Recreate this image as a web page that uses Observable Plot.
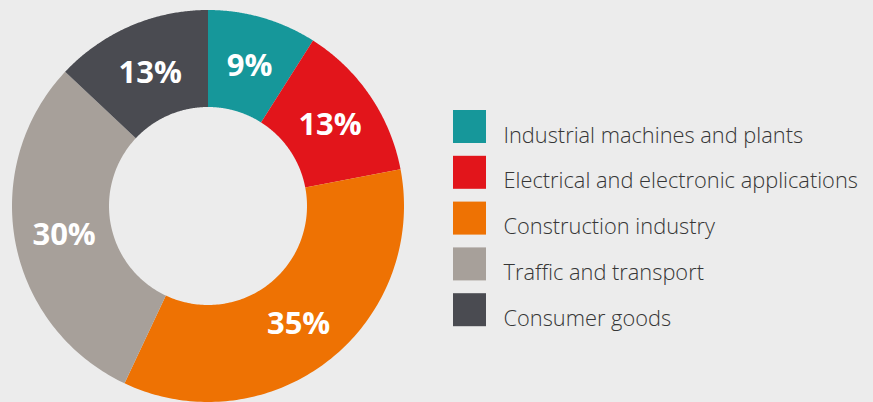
<!DOCTYPE html>
<html>
<head>
<meta charset="utf-8">
<script src="https://cdn.jsdelivr.net/npm/d3@7"></script>
<script src="https://cdn.jsdelivr.net/npm/@observablehq/plot@0.6"></script>
<style>
  html, body { margin: 0; padding: 0; background: #ececec; }
  #chart svg { display: block; }
</style>
</head>
<body>
<div id="chart"></div>
<script>
// ---- data ----
const categories = [
  "Industrial machines and plants",
  "Electrical and electronic applications",
  "Construction industry",
  "Traffic and transport",
  "Consumer goods"
];
const shares = [9, 13, 35, 30, 13];
const colors = ["#16979a", "#e2151b", "#ee7203", "#a7a09a", "#4a4b51"];

// ---- layout ----
const W = 873, H = 402;
const cx = 208, cy = 206, rOuter = 196, rInner = 99, rLabel = 147;
const total = d3.sum(shares);

// arc sample points for each slice
const arcPoints = [];
const labels = [];
let acc = 0;
categories.forEach((c, i) => {
  const a0 = acc / total * 2 * Math.PI;
  acc += shares[i];
  const a1 = acc / total * 2 * Math.PI;
  const n = 120;
  for (let k = 0; k <= n; k++) {
    const a = a0 + (a1 - a0) * k / n;
    arcPoints.push({
      category: c,
      xi: cx + rInner * Math.sin(a), yi: cy - rInner * Math.cos(a),
      xo: cx + rOuter * Math.sin(a), yo: cy - rOuter * Math.cos(a)
    });
  }
  const am = (a0 + a1) / 2;
  labels.push({
    category: c,
    text: shares[i] + "%",
    x: cx + rLabel * Math.sin(am),
    y: cy - rLabel * Math.cos(am)
  });
});

const legend = categories.map((c, i) => ({
  category: c,
  x1: 453, x2: 486,
  y1: 110 + i * 45.8, y2: 143 + i * 45.8
}));

const chart = Plot.plot({
  width: W,
  height: H,
  margin: 0,
  style: { background: "#ececec", overflow: "visible" },
  x: { type: "linear", domain: [0, W], range: [0, W], axis: null },
  y: { type: "linear", domain: [0, H], range: [0, H], axis: null },
  color: { type: "ordinal", domain: categories, range: colors },
  marks: [
    Plot.area(arcPoints, {
      x1: "xi", y1: "yi", x2: "xo", y2: "yo",
      z: "category", fill: "category", curve: "linear"
    }),
    Plot.text(labels, {
      x: "x", y: "y", text: "text",
      fill: "white", fontSize: 31, fontWeight: "bold",
      fontFamily: "Open Sans", textAnchor: "middle", dy: 1
    }),
    Plot.rect(legend, {
      x1: "x1", x2: "x2", y1: "y1", y2: "y2", fill: "category"
    }),
    Plot.text(legend, {
      x: 503, y: "y2", text: "category",
      fill: "#363636", fontSize: 21.8, fontWeight: 300, fontFamily: "Open Sans",
      textAnchor: "start", lineAnchor: "bottom", dy: -1
    })
  ]
});
document.getElementById("chart").appendChild(chart);
</script>
</body>
</html>
